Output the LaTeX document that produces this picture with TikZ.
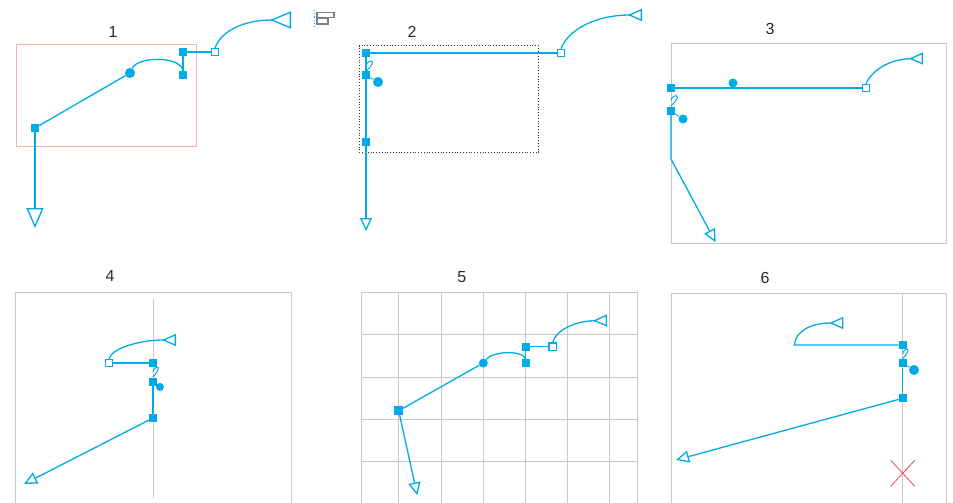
\documentclass[tikz,border=0pt]{standalone}
\usepackage{fontspec}
\setmainfont{Liberation Sans}
\usepackage{tikz}
\usetikzlibrary{arrows.meta,positioning,calc}

\definecolor{cyanline}{RGB}{0,170,232}
\definecolor{framegray}{RGB}{200,200,200}
\definecolor{pinkframe}{RGB}{242,178,178}
\definecolor{xred}{RGB}{232,70,76}
\definecolor{labelgray}{RGB}{40,40,40}

\begin{document}
\begin{tikzpicture}[x=1pt,y=-1pt,
    wire/.style={draw=cyanline, line width=1.3pt},
    hnd/.style={rectangle, fill=cyanline, minimum size=8pt, inner sep=0pt},
    ohnd/.style={rectangle, draw=cyanline, fill=white, line width=1.1pt, minimum size=7.5pt, inner sep=0pt},
    knot/.style={circle, fill=cyanline, minimum size=10pt, inner sep=0pt},
    frame/.style={draw=framegray, line width=1pt},
    num/.style={font=\fontsize{16}{18}\selectfont, text=labelgray},
    tipbig/.style={-{Triangle[open,length=20pt,width=17pt]}},
    tip/.style={-{Triangle[open,length=13pt,width=12pt]}},
    backtip/.style={-{Triangle[open,reversed,length=14pt,width=12pt]}}]
    \useasboundingbox (0,0) rectangle (953,503);

    % Panel 1
    \draw[pinkframe, line width=1pt] (16,45) rectangle (196,146);
    \node[num] (lab1) at (113,32) {1};
    \node[hnd] (a1) at (35,128) {};
    \node[knot] (k1) at (130,73) {};
    \node[hnd] (h11) at (183,52) {};
    \node[hnd] (h12) at (183,75) {};
    \node[ohnd] (o1) at (215,52) {};
    \coordinate (e1) at (35,228);
    \coordinate (t1) at (291,20);
    \draw[wire] (a1) -- (k1);
    \draw[wire] (k1) .. controls (138,56) and (181,56) .. (h12.north);
    \draw[wire] (h11) -- (h12);
    \draw[wire] (h11) -- (o1);
    \draw[wire, -{Triangle[open,reversed,length=21pt,width=17pt]}] (o1.north) .. controls (222,30) and (245,20) .. (t1);
    \draw[wire, tipbig] (a1) -- (e1);

    % small align icon
    \draw[cyanline, dotted, line width=1.2pt] (314.3,10) -- (314.3,28);
    \draw[gray, line width=1.2pt] (317,12.5) rectangle (334,17.7);
    \draw[gray, line width=1.2pt] (317,18.5) rectangle (328,24);

    % Panel 2
    \draw[black!80, dotted, line width=0.8pt] (359.3,45.7) rectangle (538.7,152);
    \node[num] (lab2) at (412,32) {2};
    \node[hnd] (h21) at (366,53) {};
    \node[hnd] (h22) at (366,75) {};
    \node[hnd] (h23) at (366,142) {};
    \node[knot] (k2) at (378,82) {};
    \node[ohnd] (o2) at (561,53) {};
    \coordinate (e2) at (366,231);
    \coordinate (t2) at (642,15);
    \draw[wire] (h21) -- (o2);
    \draw[wire] (h21) -- (h22);
    \draw[wire] (h22) -- (h23);
    \draw[wire, line width=0.8pt] (h22) -- (k2);
    \draw[wire, line width=1pt] (366,71.5) .. controls (369,68.5) and (374,63) .. (372,61.5) .. controls (370,60.5) and (366,63) .. (366,66);
    \draw[wire, backtip] (o2.north) .. controls (568,30) and (595,15) .. (t2);
    \draw[wire, tip] (h23) -- (e2);

    % Panel 3
    \draw[frame] (671,43.3) rectangle (946.7,243.3);
    \node[num] (lab3) at (770,29) {3};
    \node[hnd] (h31) at (671,88) {};
    \node[ohnd] (o3) at (866,88) {};
    \node[knot, minimum size=9pt] (k31) at (733,83) {};
    \node[hnd] (h32) at (671,111) {};
    \node[knot, minimum size=9pt] (k32) at (683,119) {};
    \coordinate (b3) at (671,159);
    \coordinate (e3) at (715.7,242.3);
    \coordinate (t3) at (923,58.5);
    \draw[wire] (h31) -- (o3);
    \draw[wire, line width=0.8pt] (h32) -- (k32);
    \draw[wire, line width=1pt] (671,106) .. controls (674,103) and (679,97.5) .. (677,96) .. controls (675,95) and (671,97.5) .. (671,100.5);
    \draw[wire, backtip] (o3.north) .. controls (872,70) and (890,59) .. (t3);
    \draw[wire, tip] (h32) -- (b3) -- (e3);

    % Panel 4
    \draw[frame] (15.7,503) -- (15.7,292.3) -- (291.7,292.3) -- (291.7,503);
    \node[num] (lab4) at (110,276) {4};
    \coordinate (g4a) at (153,299);
    \coordinate (g4b) at (153,498);
    \draw[frame] (g4a) -- (g4b);
    \node[ohnd] (o4) at (109,363) {};
    \node[hnd] (h41) at (153,363) {};
    \node[hnd] (h42) at (153,382) {};
    \node[hnd] (h43) at (153,418) {};
    \node[knot, minimum size=8pt] (k4) at (160,387) {};
    \coordinate (e4) at (24,484);
    \coordinate (t4) at (176,340);
    \draw[wire] (o4) -- (h41);
    \draw[wire, line width=1pt] (153,377) .. controls (155.5,374.5) and (159.5,369) .. (158,367.5) .. controls (156.5,366.5) and (153,369) .. (153,372);
    \draw[wire, backtip] (o4.north) .. controls (112,348) and (140,340) .. (t4);
    \draw[wire] (h42) -- (h43);
    \draw[wire, tip] (h43) -- (e4);

    % Panel 5
    \foreach \gx in {361.3,398.7,441,483.3,525.7,567.7,609.7,637}
        \draw[frame] (\gx,292.3) -- (\gx,503);
    \foreach \gy in {292.3,334.7,377,419.3,461.7}
        \draw[frame] (361.3,\gy) -- (637,\gy);
    \node[num] (lab5) at (461.7,276.7) {5};
    \node[hnd, minimum size=8.5pt] (a5) at (398.7,410.7) {};
    \node[knot, minimum size=9pt] (k5) at (483.3,363) {};
    \node[hnd] (h51) at (525.7,346.7) {};
    \node[hnd] (h52) at (525.7,363) {};
    \node[ohnd] (o5) at (552.7,346.7) {};
    \coordinate (e5) at (417.3,495.3);
    \coordinate (t5) at (607,320.5);
    \draw[wire] (a5) -- (k5);
    \draw[wire] (k5) .. controls (493,351) and (522,350) .. (h52.north);
    \draw[wire] (h51) -- (h52);
    \draw[wire] (h51) -- (o5);
    \draw[wire, backtip] (o5.north) .. controls (556,330) and (575,321) .. (t5);
    \draw[wire, tip] (a5) -- (e5);

    % Panel 6
    \draw[frame] (671,503) -- (671,293.3) -- (946.3,293.3) -- (946.3,503);
    \node[num] (lab6) at (765,278) {6};
    \coordinate (g6a) at (902.7,293.3);
    \coordinate (g6b) at (902.7,503);
    \draw[frame] (g6a) -- (g6b);
    \node[hnd] (h61) at (902.7,345) {};
    \node[hnd] (h62) at (902.7,363.3) {};
    \node[hnd] (h63) at (902.7,398.3) {};
    \node[knot] (k6) at (914,370) {};
    \coordinate (c6) at (794.3,345);
    \coordinate (e6) at (676,460);
    \coordinate (t6) at (843.3,323);
    \draw[wire, line width=0.8pt] (h62) -- (k6);
    \draw[wire, line width=1pt] (902.7,358.5) .. controls (905.2,356) and (909.2,351) .. (907.7,349.5) .. controls (906.2,348.5) and (902.7,351) .. (902.7,354);
    \draw[wire, backtip] (h61) -- (c6) .. controls (796,330) and (812,323) .. (t6);
    \draw[wire] (h62) -- (h63);
    \draw[wire, tip] (h63) -- (e6);
    \draw[xred, line width=0.8pt] (890.7,460.3) -- (914.7,486.3);
    \draw[xred, line width=0.8pt] (914.7,460.3) -- (890.7,486.3);
\end{tikzpicture}
\end{document}
